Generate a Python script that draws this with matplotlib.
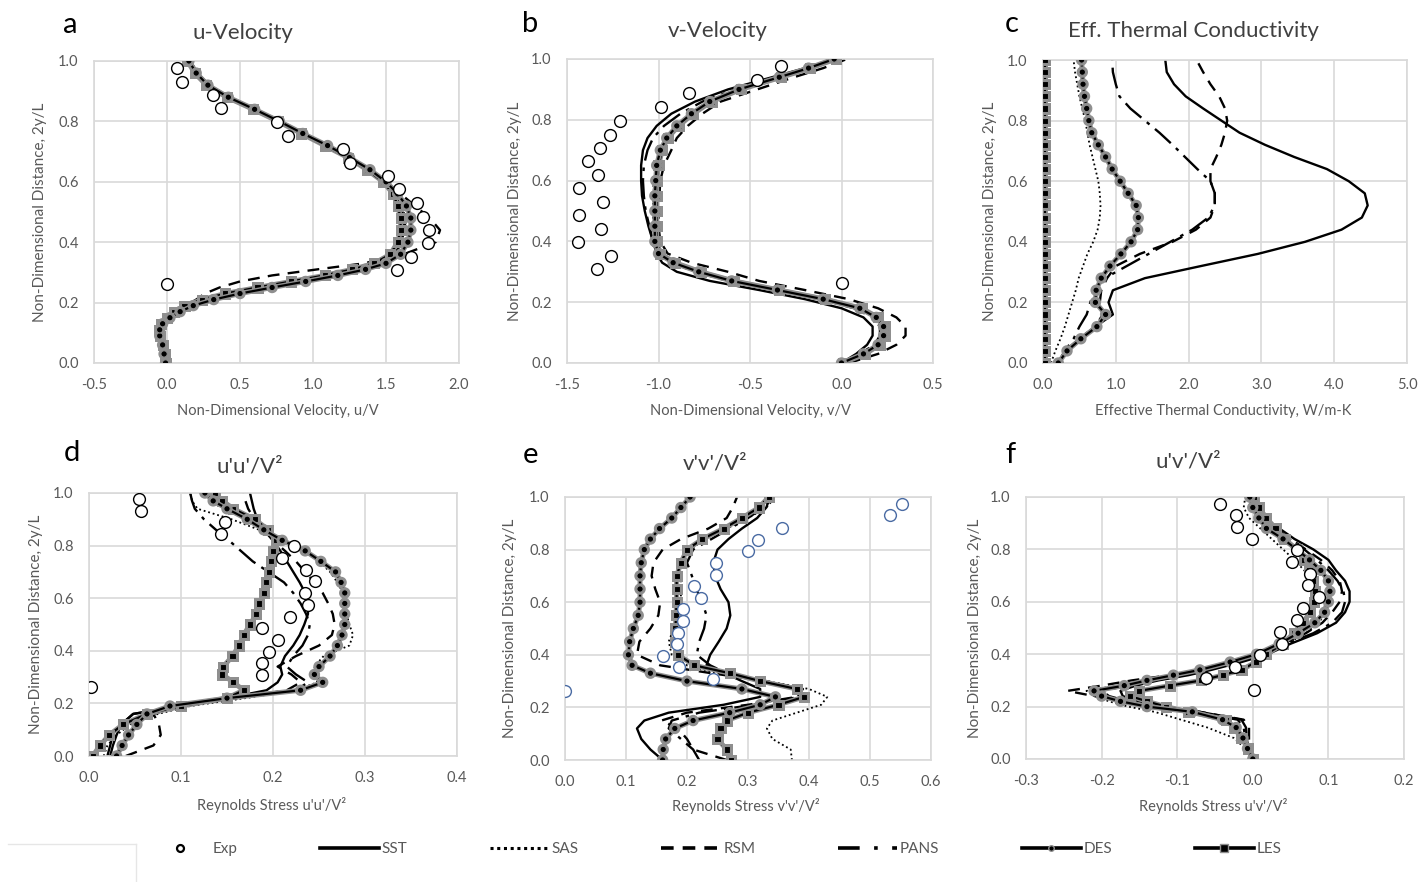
import matplotlib
matplotlib.use("Agg")
import matplotlib.pyplot as plt
import matplotlib.patheffects as pe
from matplotlib.lines import Line2D
from matplotlib.ticker import FormatStrFormatter

plt.rcParams['font.family'] = ['Lato', 'DejaVu Sans']

W, H = 1422, 882

# ---------------- a: u-Velocity ----------------
y_a = [0, 0.03, 0.06, 0.09, 0.11, 0.13, 0.15, 0.17, 0.19, 0.21, 0.23, 0.25, 0.27, 0.29, 0.31, 0.33,
       0.36, 0.4, 0.44, 0.48, 0.52, 0.56, 0.6, 0.64, 0.68, 0.72, 0.76, 0.8, 0.84, 0.88, 0.92, 0.96, 1.0]
a_sst = [-0.01, -0.02, -0.035, -0.055, -0.06, -0.04, 0.01, 0.07, 0.15, 0.28, 0.45, 0.67, 0.9, 1.12, 1.32, 1.46,
         1.56, 1.61, 1.62, 1.62, 1.6, 1.56, 1.49, 1.38, 1.25, 1.09, 0.93, 0.77, 0.6, 0.42, 0.28, 0.2, 0.15]
a_sas = [-0.01, -0.02, -0.03, -0.05, -0.055, -0.035, 0.015, 0.08, 0.17, 0.3, 0.48, 0.7, 0.93, 1.15, 1.34, 1.47,
         1.56, 1.6, 1.61, 1.61, 1.59, 1.55, 1.48, 1.37, 1.24, 1.09, 0.93, 0.77, 0.6, 0.42, 0.28, 0.2, 0.15]
a_rsm = [-0.01, -0.02, -0.04, -0.06, -0.06, -0.05, -0.01, 0.05, 0.13, 0.2, 0.26, 0.36, 0.5, 0.72, 1.03, 1.35,
         1.62, 1.84, 1.87, 1.8, 1.7, 1.6, 1.5, 1.39, 1.26, 1.1, 0.94, 0.78, 0.61, 0.43, 0.29, 0.21, 0.16]
a_pans = [-0.01, -0.02, -0.035, -0.055, -0.06, -0.04, 0.01, 0.07, 0.16, 0.29, 0.47, 0.69, 0.92, 1.14, 1.33, 1.47,
          1.57, 1.62, 1.63, 1.63, 1.61, 1.56, 1.49, 1.38, 1.25, 1.09, 0.93, 0.77, 0.6, 0.42, 0.28, 0.2, 0.15]
a_des = [-0.01, -0.02, -0.03, -0.05, -0.05, -0.03, 0.02, 0.09, 0.18, 0.32, 0.5, 0.72, 0.95, 1.17, 1.36, 1.5,
         1.6, 1.65, 1.67, 1.67, 1.64, 1.58, 1.5, 1.39, 1.25, 1.1, 0.93, 0.77, 0.6, 0.42, 0.28, 0.2, 0.15]
a_les = [-0.01, -0.015, -0.025, -0.045, -0.055, -0.04, 0.0, 0.05, 0.12, 0.24, 0.4, 0.62, 0.85, 1.08, 1.27, 1.42,
         1.53, 1.58, 1.6, 1.6, 1.58, 1.55, 1.48, 1.37, 1.24, 1.08, 0.92, 0.76, 0.59, 0.41, 0.27, 0.19, 0.14]
a_exp_x = [0.066, 0.10, 0.317, 0.368, 0.756, 0.831, 1.208, 1.253, 1.516, 1.591, 1.715, 1.756, 1.797, 1.79, 1.67, 1.578, 0.0]
a_exp_y = [0.976, 0.93, 0.887, 0.843, 0.799, 0.752, 0.708, 0.663, 0.619, 0.575, 0.529, 0.484, 0.44, 0.398, 0.35, 0.308, 0.262]

# ---------------- b: v-Velocity ----------------
y_b = [0, 0.03, 0.06, 0.09, 0.12, 0.15, 0.18, 0.21, 0.24, 0.27, 0.3, 0.33, 0.36, 0.4,
       0.45, 0.5, 0.55, 0.6, 0.65, 0.7, 0.74, 0.78, 0.82, 0.86, 0.9, 0.94, 0.97, 1.0]
b_sst = [0.0, 0.08, 0.14, 0.17, 0.17, 0.12, 0.0, -0.2, -0.45, -0.72, -0.9, -0.98, -1.01, -1.03,
         -1.055, -1.075, -1.09, -1.095, -1.095, -1.085, -1.06, -1.01, -0.93, -0.8, -0.62, -0.38, -0.2, -0.03]
b_sas = [0.0, 0.11, 0.19, 0.22, 0.22, 0.18, 0.09, -0.11, -0.36, -0.61, -0.79, -0.93, -1.0, -1.02,
         -1.03, -1.03, -1.03, -1.02, -1.01, -0.99, -0.95, -0.9, -0.82, -0.71, -0.55, -0.33, -0.17, -0.02]
b_rsm = [0.04, 0.2, 0.3, 0.35, 0.35, 0.3, 0.2, 0.04, -0.2, -0.45, -0.62, -0.82, -0.95, -0.99,
         -1.0, -1.0, -0.995, -0.99, -0.97, -0.93, -0.9, -0.84, -0.76, -0.66, -0.46, -0.26, -0.1, 0.03]
b_pans = [0.0, 0.1, 0.18, 0.21, 0.21, 0.17, 0.07, -0.12, -0.37, -0.62, -0.8, -0.93, -1.0, -1.03,
          -1.05, -1.07, -1.08, -1.085, -1.08, -1.06, -1.03, -0.97, -0.88, -0.76, -0.58, -0.35, -0.18, -0.02]
b_des = [0.0, 0.12, 0.2, 0.23, 0.23, 0.19, 0.1, -0.1, -0.35, -0.6, -0.78, -0.92, -1.0, -1.02,
         -1.02, -1.02, -1.02, -1.015, -1.01, -0.99, -0.955, -0.9, -0.82, -0.72, -0.56, -0.34, -0.18, -0.04]
b_les = [0.01, 0.13, 0.21, 0.24, 0.24, 0.2, 0.11, -0.09, -0.34, -0.59, -0.77, -0.91, -0.99, -1.01,
         -1.01, -1.01, -1.01, -1.01, -1.0, -0.98, -0.95, -0.89, -0.81, -0.71, -0.55, -0.33, -0.17, -0.03]
b_exp_x = [-0.331, -0.462, -0.831, -0.985, -1.213, -1.267, -1.318, -1.384, -1.329, -1.435, -1.304, -1.435,
           -1.316, -1.438, -1.258, -1.336, 0.0]
b_exp_y = [0.976, 0.93, 0.888, 0.841, 0.797, 0.751, 0.707, 0.665, 0.619, 0.575, 0.529, 0.487, 0.441,
           0.397, 0.352, 0.308, 0.264]

# ---------------- c: Eff. Thermal Conductivity ----------------
y_c = [0, 0.04, 0.08, 0.12, 0.16, 0.2, 0.24, 0.28, 0.32, 0.36, 0.4, 0.44, 0.48, 0.52, 0.56,
       0.6, 0.64, 0.68, 0.72, 0.76, 0.8, 0.84, 0.88, 0.92, 0.96, 1.0]
c_sst = [0.21, 0.3, 0.5, 0.72, 0.96, 0.9, 0.96, 1.4, 2.17, 2.95, 3.6, 4.1, 4.38, 4.46, 4.42,
         4.2, 3.9, 3.45, 3.05, 2.7, 2.45, 2.2, 1.96, 1.8, 1.7, 1.68]
c_sas = [0.11, 0.17, 0.24, 0.3, 0.35, 0.4, 0.45, 0.49, 0.55, 0.61, 0.69, 0.75, 0.78, 0.79, 0.78,
         0.76, 0.72, 0.68, 0.64, 0.61, 0.58, 0.54, 0.5, 0.47, 0.44, 0.42]
c_rsm = [0.21, 0.32, 0.5, 0.72, 0.82, 0.78, 0.8, 0.88, 1.0, 1.33, 1.78, 2.1, 2.3, 2.36, 2.36,
         2.3, 2.3, 2.38, 2.45, 2.5, 2.53, 2.5, 2.42, 2.3, 2.2, 2.11]
c_pans = [0.21, 0.3, 0.42, 0.5, 0.6, 0.65, 0.7, 0.85, 1.15, 1.45, 1.75, 2.05, 2.27, 2.36, 2.36,
          2.3, 2.12, 1.95, 1.78, 1.6, 1.4, 1.2, 1.05, 1.0, 0.96, 0.95]
c_des = [0.21, 0.33, 0.52, 0.74, 0.86, 0.72, 0.73, 0.8, 0.92, 1.07, 1.21, 1.3, 1.31, 1.28, 1.17,
         1.06, 0.95, 0.86, 0.76, 0.67, 0.63, 0.6, 0.57, 0.55, 0.54, 0.53]
c_les = [0.03, 0.03, 0.03, 0.03, 0.03, 0.03, 0.03, 0.03, 0.03, 0.03, 0.03, 0.03, 0.03, 0.03, 0.03,
         0.03, 0.03, 0.03, 0.03, 0.03, 0.03, 0.03, 0.03, 0.03, 0.03, 0.03]

# ---------------- d: u'u'/V2 ----------------
y_d = [0, 0.04, 0.08, 0.12, 0.16, 0.19, 0.22, 0.25, 0.28, 0.31, 0.34, 0.38, 0.42, 0.46,
       0.5, 0.54, 0.58, 0.62, 0.66, 0.7, 0.74, 0.78, 0.82, 0.86, 0.9, 0.94, 0.97, 1.0]
d_sst = [0.023, 0.026, 0.03, 0.035, 0.048, 0.1, 0.15, 0.193, 0.205, 0.21, 0.208, 0.213, 0.222, 0.229,
         0.234, 0.238, 0.238, 0.235, 0.229, 0.222, 0.215, 0.208, 0.2, 0.19, 0.183, 0.179, 0.177, 0.175]
d_sas = [0.016, 0.02, 0.03, 0.045, 0.075, 0.11, 0.17, 0.225, 0.248, 0.247, 0.245, 0.255, 0.283, 0.287,
         0.283, 0.28, 0.278, 0.276, 0.27, 0.262, 0.25, 0.232, 0.21, 0.185, 0.155, 0.118, 0.112, 0.11]
d_rsm = [0.04, 0.07, 0.078, 0.076, 0.07, 0.1, 0.16, 0.215, 0.23, 0.22, 0.205, 0.225, 0.25, 0.264,
         0.267, 0.265, 0.26, 0.254, 0.245, 0.235, 0.225, 0.213, 0.2, 0.19, 0.18, 0.173, 0.17, 0.168]
d_pans = [0.02, 0.023, 0.026, 0.035, 0.048, 0.1, 0.16, 0.225, 0.238, 0.225, 0.215, 0.222, 0.232, 0.238,
          0.24, 0.236, 0.23, 0.222, 0.212, 0.195, 0.178, 0.165, 0.152, 0.138, 0.125, 0.115, 0.112, 0.11]
d_des = [0.03, 0.036, 0.043, 0.052, 0.063, 0.088, 0.15, 0.23, 0.254, 0.245, 0.25, 0.262, 0.27, 0.275,
         0.278, 0.278, 0.278, 0.278, 0.274, 0.268, 0.252, 0.235, 0.21, 0.19, 0.172, 0.15, 0.135, 0.126]
d_les = [0.004, 0.012, 0.022, 0.037, 0.063, 0.1, 0.15, 0.168, 0.157, 0.145, 0.146, 0.156, 0.163, 0.168,
         0.175, 0.182, 0.185, 0.19, 0.192, 0.196, 0.198, 0.2, 0.203, 0.195, 0.18, 0.157, 0.145, 0.137]
d_exp_x = [0.054, 0.057, 0.148, 0.144, 0.223, 0.21, 0.236, 0.246, 0.235, 0.238, 0.218, 0.188, 0.205,
           0.196, 0.188, 0.188, 0.002]
d_exp_y = [0.977, 0.93, 0.888, 0.844, 0.797, 0.753, 0.708, 0.664, 0.619, 0.575, 0.53, 0.486, 0.442,
           0.397, 0.353, 0.308, 0.264]

# ---------------- e: v'v'/V2 ----------------
y_e = [0, 0.04, 0.08, 0.12, 0.15, 0.18, 0.21, 0.24, 0.27, 0.3, 0.33, 0.36, 0.4, 0.45, 0.5,
       0.55, 0.6, 0.65, 0.7, 0.75, 0.8, 0.84, 0.88, 0.92, 0.96, 1.0]
e_sst = [0.16, 0.14, 0.125, 0.118, 0.13, 0.17, 0.26, 0.32, 0.32, 0.29, 0.262, 0.232, 0.238, 0.252, 0.265,
         0.271, 0.268, 0.255, 0.246, 0.243, 0.25, 0.268, 0.29, 0.315, 0.33, 0.336]
e_sas = [0.372, 0.37, 0.34, 0.331, 0.34, 0.38, 0.42, 0.43, 0.4, 0.33, 0.25, 0.2, 0.175, 0.17, 0.178,
         0.185, 0.19, 0.19, 0.19, 0.195, 0.205, 0.23, 0.265, 0.3, 0.33, 0.345]
e_rsm = [0.265, 0.21, 0.2, 0.185, 0.158, 0.2, 0.3, 0.38, 0.39, 0.33, 0.24, 0.156, 0.118, 0.122, 0.14,
         0.153, 0.156, 0.148, 0.142, 0.145, 0.16, 0.19, 0.235, 0.265, 0.275, 0.282]
e_pans = [0.22, 0.21, 0.19, 0.17, 0.175, 0.22, 0.31, 0.385, 0.375, 0.32, 0.265, 0.238, 0.216, 0.22, 0.228,
          0.232, 0.225, 0.215, 0.208, 0.2, 0.21, 0.24, 0.27, 0.3, 0.325, 0.342]
e_des = [0.16, 0.161, 0.165, 0.18, 0.21, 0.27, 0.32, 0.345, 0.29, 0.2, 0.14, 0.11, 0.104, 0.106, 0.112,
         0.12, 0.123, 0.123, 0.123, 0.125, 0.13, 0.14, 0.155, 0.175, 0.19, 0.205]
e_les = [0.272, 0.265, 0.25, 0.255, 0.265, 0.3, 0.35, 0.392, 0.38, 0.32, 0.27, 0.212, 0.185, 0.181, 0.181,
         0.182, 0.183, 0.183, 0.183, 0.19, 0.2, 0.225, 0.26, 0.29, 0.318, 0.334]
e_exp_x = [0.553, 0.532, 0.356, 0.316, 0.3, 0.247, 0.247, 0.211, 0.223, 0.193, 0.193, 0.186, 0.183,
           0.161, 0.187, 0.242, 0.0]
e_exp_y = [0.972, 0.93, 0.884, 0.838, 0.796, 0.749, 0.705, 0.661, 0.616, 0.573, 0.529, 0.484, 0.442,
           0.396, 0.352, 0.308, 0.263]

# ---------------- f: u'v'/V2 ----------------
y_f = [0, 0.04, 0.08, 0.12, 0.15, 0.18, 0.2, 0.22, 0.24, 0.26, 0.28, 0.3, 0.32, 0.34, 0.37, 0.4,
       0.44, 0.48, 0.52, 0.56, 0.6, 0.64, 0.68, 0.72, 0.76, 0.8, 0.84, 0.88, 0.92, 0.96, 1.0]
f_sst = [0.0, -0.006, -0.008, -0.009, -0.015, -0.07, -0.12, -0.15, -0.172, -0.175, -0.155, -0.125, -0.085,
         -0.055, -0.015, 0.02, 0.05, 0.085, 0.11, 0.122, 0.128, 0.128, 0.122, 0.11, 0.1, 0.08, 0.055, 0.035,
         0.015, 0.003, -0.004]
f_sas = [0.0, -0.01, -0.025, -0.06, -0.095, -0.13, -0.165, -0.19, -0.21, -0.22, -0.18, -0.14, -0.1,
         -0.065, -0.02, 0.015, 0.045, 0.07, 0.088, 0.095, 0.095, 0.09, 0.08, 0.068, 0.055, 0.04, 0.025, 0.01,
         -0.005, -0.012, -0.01]
f_rsm = [0.0, -0.005, -0.005, -0.005, -0.012, -0.07, -0.13, -0.17, -0.21, -0.245, -0.2, -0.16, -0.11,
         -0.07, -0.025, 0.012, 0.04, 0.07, 0.092, 0.105, 0.115, 0.118, 0.115, 0.105, 0.09, 0.07, 0.05, 0.03,
         0.012, 0.002, -0.004]
f_pans = [0.0, -0.007, -0.01, -0.012, -0.02, -0.075, -0.13, -0.165, -0.19, -0.2, -0.165, -0.13, -0.09,
          -0.06, -0.02, 0.015, 0.045, 0.08, 0.105, 0.118, 0.122, 0.12, 0.112, 0.1, 0.085, 0.068, 0.048, 0.03,
          0.012, 0.002, -0.004]
f_des = [0.0, -0.007, -0.013, -0.022, -0.04, -0.08, -0.14, -0.175, -0.2, -0.21, -0.17, -0.14, -0.105,
         -0.07, -0.03, 0.005, 0.035, 0.06, 0.082, 0.095, 0.1, 0.102, 0.1, 0.09, 0.075, 0.058, 0.04, 0.018,
         0.008, 0.0, -0.004]
f_les = [0.0, -0.006, -0.015, -0.025, -0.035, -0.085, -0.115, -0.14, -0.162, -0.15, -0.11, -0.068, -0.04,
         -0.015, 0.004, 0.018, 0.04, 0.054, 0.066, 0.076, 0.081, 0.082, 0.08, 0.075, 0.068, 0.058, 0.042,
         0.03, 0.018, 0.008, 0.001]
f_exp_x = [-0.044, -0.022, -0.021, -0.001, 0.058, 0.052, 0.076, 0.073, 0.087, 0.066, 0.058, 0.036, 0.039,
           0.009, -0.023, -0.062, 0.001]
f_exp_y = [0.975, 0.93, 0.886, 0.84, 0.797, 0.753, 0.707, 0.664, 0.619, 0.575, 0.53, 0.485, 0.44,
           0.397, 0.353, 0.308, 0.264]

# estilos de cada modelo
GRID = '#d9d9d9'
TXT = '#595959'
HALO = '#8f8f8f'
halo = [pe.Stroke(linewidth=3.6, foreground=HALO), pe.Normal()]
sty = {
    'SST': dict(color='black', lw=1.7, ls='-'),
    'SAS': dict(color='black', lw=1.3, ls=(0, (1, 1.6))),
    'RSM': dict(color='black', lw=1.7, ls=(0, (5, 3.5))),
    'PANS': dict(color='black', lw=1.7, ls=(0, (9, 3, 1.5, 3))),
    'DES': dict(color='black', lw=1.6, ls='-', marker='o', ms=4.6, mfc='black', mec=HALO, mew=0.8,
                path_effects=halo),
    'LES': dict(color='black', lw=1.6, ls='-', marker='s', ms=4.4, mfc='black', mec=HALO, mew=0.8,
                path_effects=halo),
}


def px_axes(L, R, T, B):
    return [L / W, 1 - B / H, (R - L) / W, (B - T) / H]


def dibujar(rect, y, series, exp, xlim, xticks, exp_color='black'):
    ax = fig.add_axes(px_axes(*rect))
    for name in ['SAS', 'RSM', 'PANS', 'SST']:
        ax.plot(series[name], y, zorder=2, **sty[name])
    for name in ['LES', 'DES']:
        ax.plot(series[name], y, zorder=3, **sty[name])
    if exp is not None:
        ax.plot(exp[0], exp[1], ls='none', marker='o', ms=8.5, mfc='white', mec=exp_color,
                mew=1.0, zorder=5)
    ax.set_xlim(xlim)
    ax.set_ylim(0, 1)
    ax.set_xticks(xticks)
    ax.set_yticks([0, 0.2, 0.4, 0.6, 0.8, 1.0])
    ax.xaxis.set_major_formatter(FormatStrFormatter('%.1f'))
    ax.yaxis.set_major_formatter(FormatStrFormatter('%.1f'))
    ax.grid(True, color=GRID, lw=1.2)
    ax.set_axisbelow(True)
    for s in ax.spines.values():
        s.set_color(GRID)
        s.set_linewidth(1.2)
    ax.tick_params(length=0, labelsize=10.5, colors=TXT, pad=11)
    return ax


def ftext(x, y, s, **kw):
    fig.text(x / W, 1 - y / H, s, ha='center', va='center', **kw)


fig = plt.figure(figsize=(W / 100, H / 100), dpi=100)

dibujar((94, 459, 61, 363), y_a,
        dict(SST=a_sst, SAS=a_sas, RSM=a_rsm, PANS=a_pans, DES=a_des, LES=a_les),
        (a_exp_x, a_exp_y), (-0.5, 2.0), [-0.5, 0.0, 0.5, 1.0, 1.5, 2.0])
dibujar((567, 933, 59, 363), y_b,
        dict(SST=b_sst, SAS=b_sas, RSM=b_rsm, PANS=b_pans, DES=b_des, LES=b_les),
        (b_exp_x, b_exp_y), (-1.5, 0.5), [-1.5, -1.0, -0.5, 0.0, 0.5])
dibujar((1043, 1407, 60, 363), y_c,
        dict(SST=c_sst, SAS=c_sas, RSM=c_rsm, PANS=c_pans, DES=c_des, LES=c_les),
        None, (0, 5.0), [0, 1.0, 2.0, 3.0, 4.0, 5.0])
dibujar((89, 457, 493, 756), y_d,
        dict(SST=d_sst, SAS=d_sas, RSM=d_rsm, PANS=d_pans, DES=d_des, LES=d_les),
        (d_exp_x, d_exp_y), (0, 0.4), [0, 0.1, 0.2, 0.3, 0.4])
dibujar((565, 931, 497, 760), y_e,
        dict(SST=e_sst, SAS=e_sas, RSM=e_rsm, PANS=e_pans, DES=e_des, LES=e_les),
        (e_exp_x, e_exp_y), (0, 0.6), [0, 0.1, 0.2, 0.3, 0.4, 0.5, 0.6], exp_color='#4a6ba3')
dibujar((1026, 1404, 497, 759), y_f,
        dict(SST=f_sst, SAS=f_sas, RSM=f_rsm, PANS=f_pans, DES=f_des, LES=f_les),
        (f_exp_x, f_exp_y), (-0.3, 0.2), [-0.3, -0.2, -0.1, 0.0, 0.1, 0.2])

# letras, titulos y etiquetas
letras = [('a', 70, 25), ('b', 530, 24), ('c', 1012, 24), ('d', 72, 453), ('e', 530, 455), ('f', 1010, 455)]
for s, x, y in letras:
    ftext(x, y, s, fontsize=21, color='black')

titulos = [('u-Velocity', 243, 33), ('v-Velocity', 718, 31), ('Eff. Thermal Conductivity', 1193, 31),
           ("u'u'/V²", 250, 467), ("v'v'/V²", 715, 463), ("u'v'/V²", 1188, 462)]
for s, x, y in titulos:
    ftext(x, y, s, fontsize=16, color='#404040')

xlabels = [('Non-Dimensional Velocity, u/V', 278, 411), ('Non-Dimensional Velocity, v/V', 750, 411),
           ('Effective Thermal Conductivity, W/m-K', 1223, 411), ("Reynolds Stress u'u'/V²", 272, 805),
           ("Reynolds Stress v'v'/V²", 746, 806), ("Reynolds Stress u'v'/V²", 1213, 806)]
for s, x, y in xlabels:
    ftext(x, y, s, fontsize=10.5, color=TXT)

ylabels = [(40, 212), (515, 211), (990, 211), (36, 624), (510, 628), (975, 628)]
for x, y in ylabels:
    ftext(x, y, 'Non-Dimensional Distance, 2y/L', fontsize=11, color=TXT, rotation=90)

# leyenda
handles = [
    Line2D([], [], ls='none', marker='o', ms=5, mfc='white', mec='black', mew=1.6),
    Line2D([], [], color='black', lw=2.6, ls='-'),
    Line2D([], [], color='black', lw=2.2, ls=(0, (1, 1.2))),
    Line2D([], [], color='black', lw=2.6, ls=(0, (3.5, 2.5))),
    Line2D([], [], color='black', lw=2.6, ls=(0, (6, 4, 1, 4))),
    Line2D([], [], color='black', lw=2.6, marker='o', ms=4, mfc='black', mec=HALO, markevery=[1]),
    Line2D([], [], color='black', lw=2.6, marker='s', ms=5.5, mfc='black', mec=HALO, markevery=[1]),
]
labels = ['Exp', 'SST', 'SAS', 'RSM', 'PANS', 'DES', 'LES']
leg = fig.legend(handles, labels, loc='center', bbox_to_anchor=(716 / W, 1 - 849 / H), ncol=7,
                 frameon=False, fontsize=11, handlelength=3.9, handletextpad=0.15, columnspacing=5.4)
for t in leg.get_texts():
    t.set_color(TXT)

# marco tenue alrededor de la leyenda
fig.add_artist(Line2D([8 / W, 136 / W], [1 - 844 / H, 1 - 844 / H], color='#e6e6e6', lw=1))
fig.add_artist(Line2D([136 / W, 136 / W], [1 - 844 / H, 0], color='#e6e6e6', lw=1))

fig.savefig('out.png', dpi=100)
